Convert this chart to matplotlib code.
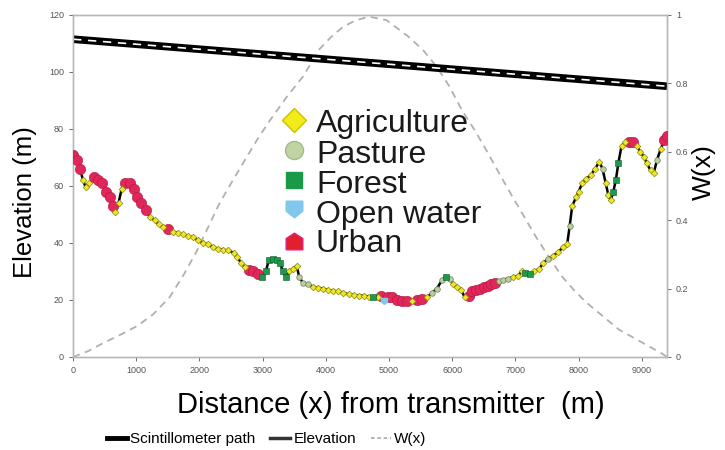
import matplotlib
matplotlib.use("Agg")
import matplotlib.pyplot as plt
from matplotlib.lines import Line2D

plt.rcParams["font.family"] = ["Liberation Sans", "DejaVu Sans"]

# scintillometer beam height (m) at the two ends of the path
path_x = [0, 9400]
path_elev = [111.5, 95.0]

# elevation profile (m) with land cover class at each sample
# A=agriculture, P=pasture, F=forest, W=open water, U=urban
elev_x = [0, 60, 110, 160, 200, 260, 330, 400, 460, 520, 580, 630, 670, 720, 770,
          830, 900, 960, 1020, 1080, 1150, 1220, 1290, 1360, 1430, 1500, 1580, 1660,
          1740, 1820, 1900, 1980, 2060, 2140, 2220, 2300, 2380, 2460, 2540, 2600,
          2660, 2720, 2780, 2850, 2920, 2990, 3050, 3100, 3170, 3230, 3280, 3320,
          3370, 3420, 3480, 3540, 3580, 3640, 3720, 3800, 3880, 3960, 4040, 4120,
          4200, 4280, 4360, 4440, 4520, 4600, 4680, 4750, 4820, 4880, 4920, 4980,
          5050, 5120, 5200, 5280, 5360, 5440, 5520, 5600, 5680, 5760, 5840, 5900,
          5960, 6020, 6080, 6140, 6200, 6260, 6320, 6380, 6440, 6500, 6560, 6620,
          6680, 6740, 6800, 6880, 6960, 7040, 7100, 7160, 7230, 7300, 7380, 7440,
          7520, 7600, 7680, 7760, 7820, 7860, 7900, 7960, 8000, 8060, 8120, 8200,
          8260, 8330, 8380, 8430, 8470, 8510, 8550, 8590, 8630, 8680, 8740, 8800,
          8860, 8920, 8980, 9040, 9080, 9140, 9190, 9240, 9300, 9360, 9400]
elev_y = [71, 69, 66, 62, 59.5, 61, 63, 62, 61, 58, 56, 53, 51, 54, 59,
          61, 61, 59, 56, 54, 51.5, 49, 48, 46.5, 45.5, 45, 44, 43.5,
          43, 42.5, 42, 41, 40, 39.5, 38.5, 38, 37.5, 37.5, 36.5, 35,
          33, 31.5, 30.5, 30, 29, 28, 30, 34, 34.5, 34, 33, 30,
          28, 30, 31, 32, 28, 26, 25.5, 24.5, 24.3, 24, 23.5, 23.2,
          23, 22.5, 22, 21.8, 21.5, 21.5, 21.2, 21, 21, 21.5, 19.5, 21,
          21, 20, 19.5, 19.5, 19.5, 20, 20.5, 21, 22.5, 24, 27, 28,
          27.5, 25.5, 24.5, 23.5, 21, 21.5, 23, 23.5, 24, 24.5, 25, 25.5,
          26, 26.5, 27, 27.5, 28, 28.5, 30, 29.5, 29, 30, 31, 33,
          34.5, 35.5, 37, 38.5, 39.5, 46, 53, 56, 58, 61, 62.5, 64,
          66, 68.5, 66, 61, 57, 55, 58, 62, 68, 74, 75.5, 75.5,
          75.5, 74, 72, 70, 68, 65.5, 64.5, 69, 73, 76, 77.5]
elev_cover = list("UUUAAAUUUUUUAAA"
                  "UUUUUUAAAAUAA"
                  "AAAAAAAAAAAA"
                  "AAUUUFFFFFFF"
                  "FAAAPPPAAAAA"
                  "AAAAAAAFAUWU"
                  "UUUUAUUAPPPF"
                  "PAAAAUUUUUUU"
                  "UPPPAAAFFAAA"
                  "PAAAAPAAAAAA"
                  "AAPAAAFFFAAU"
                  "UAAAAAAPAUU")

# weighting function W(x) of the scintillometer path
w_x = [0, 250, 470, 750, 1010, 1270, 1530, 1750, 1960, 2140, 2320, 2540, 2750,
       2930, 3110, 3380, 3640, 3900, 4080, 4270, 4480, 4690, 4960, 5320, 5550,
       5750, 5960, 6160, 6350, 6540, 6750, 6950, 7140, 7330, 7540, 7740, 7930,
       8120, 8380, 8640, 8980, 9320, 9400]
w_val = [0.0, 0.018, 0.04, 0.065, 0.09, 0.125, 0.175, 0.24, 0.31, 0.38, 0.45,
         0.52, 0.585, 0.64, 0.69, 0.76, 0.82, 0.90, 0.935, 0.965, 0.985, 0.995,
         0.985, 0.935, 0.895, 0.85, 0.79, 0.72, 0.665, 0.605, 0.535, 0.47, 0.41,
         0.35, 0.29, 0.235, 0.195, 0.16, 0.12, 0.08, 0.045, 0.01, 0.0]

cover_names = ["Agriculture", "Pasture", "Forest", "Open water", "Urban"]
cover_codes = ["A", "P", "F", "W", "U"]

house = [(-1, -1), (1, -1), (1, 0.35), (0, 1), (-1, 0.35), (-1, -1)]
shield = [(-1, 1), (1, 1), (1, -0.2), (0, -1), (-1, -0.2), (-1, 1)]
styles = {
    "A": dict(marker="D", color="#efe626", mec="#8a8a10", ms=3.4, mew=0.5),
    "P": dict(marker="o", color="#b9cf9c", mec="#707a60", ms=4, mew=0.5),
    "F": dict(marker="s", color="#1e9a4c", mec="#0d5a2a", ms=4.5, mew=0.4),
    "W": dict(marker=shield, color="#80c8ee", mec="#80c8ee", ms=5, mew=0.4),
    "U": dict(marker="o", color="#e0265a", mec="#b01840", ms=7.5, mew=0.4),
}

fig = plt.figure(figsize=(7.25, 4.5), dpi=100)
ax = fig.add_axes([0.1007, 0.2067, 0.8193, 0.76])
ax2 = ax.twinx()
ax.set_zorder(ax2.get_zorder() + 1)
ax.patch.set_visible(False)

# W(x)
ax2.plot(w_x, w_val, color="#b0b0b0", lw=1.3, ls=(0, (4, 3)))
ax2.set_ylim(0, 1)
ax2.set_yticks([0, 0.2, 0.4, 0.6, 0.8, 1.0])
ax2.set_yticklabels(["0", "0.2", "0.4", "0.6", "0.8", "1"])
ax2.set_ylabel("W(x)", fontsize=19)
ax2.yaxis.set_label_coords(1.042, 0.54)

# scintillometer path (rope style)
ax.plot(path_x, path_elev, color="black", lw=5.5, solid_capstyle="butt")
ax.plot(path_x, path_elev, color="white", lw=1.2, ls=(0, (5, 4)))

# elevation profile
ax.plot(elev_x, elev_y, color="black", lw=1.8, zorder=3)
for code in cover_codes:
    xs = [x for x, c in zip(elev_x, elev_cover) if c == code]
    ys = [y for y, c in zip(elev_y, elev_cover) if c == code]
    ax.plot(xs, ys, ls="none", zorder=4 if code != "U" else 3.5, **styles[code])

ax.set_xlim(0, 9400)
ax.set_ylim(0, 120)
ax.set_xticks(range(0, 9001, 1000))
ax.set_yticks(range(0, 121, 20))
ax.set_ylabel("Elevation (m)", fontsize=18.5)
ax.yaxis.set_label_coords(-0.061, 0.453)
ax.set_xlabel("Distance (x) from transmitter  (m)", fontsize=21)
ax.xaxis.set_label_coords(0.535, -0.098)

for a in (ax, ax2):
    for s in a.spines.values():
        s.set_color("#b8b8b8")
        s.set_linewidth(1.0)
    a.tick_params(labelsize=6.5, colors="#555555", length=3, width=0.6)

# land cover key drawn inside the plot
key_style = {
    "A": dict(marker="D", color="#f2ea1a", mec="#c8c000", ms=12),
    "P": dict(marker="o", color="#bfd4a0", mec="#a8b890", ms=13),
    "F": dict(marker="s", color="#1a9a48", mec="#1a9a48", ms=12),
    "W": dict(marker=shield, color="#80c8ee", mec="#80c8ee", ms=12),
    "U": dict(marker=house, color="#e0202c", mec="#e02080", ms=12),
}
key_marker_y = [0.693, 0.605, 0.518, 0.433, 0.340]
key_text_y = [0.658, 0.567, 0.480, 0.392, 0.307]
for code, name, my, ty in zip(cover_codes, cover_names, key_marker_y, key_text_y):
    ax.plot([0.372], [my], transform=ax.transAxes, ls="none", zorder=6,
            **key_style[code])
    ax.text(0.409, ty, name, transform=ax.transAxes, fontsize=23,
            va="baseline", ha="left", color="#1a1a1a", zorder=6)

handles = [
    Line2D([], [], color="black", lw=3.5),
    Line2D([], [], color="#333333", lw=2.5),
    Line2D([], [], color="#b0b0b0", lw=1.3, ls=(0, (2, 1.5))),
]
fig.legend(handles, ["Scintillometer path", "Elevation", "W(x)"],
           loc="center", bbox_to_anchor=(0.368, 0.024), ncol=3, frameon=False,
           fontsize=11, handlelength=1.3, handletextpad=0.2,
           columnspacing=1.0)

fig.savefig("out.png", dpi=100)
